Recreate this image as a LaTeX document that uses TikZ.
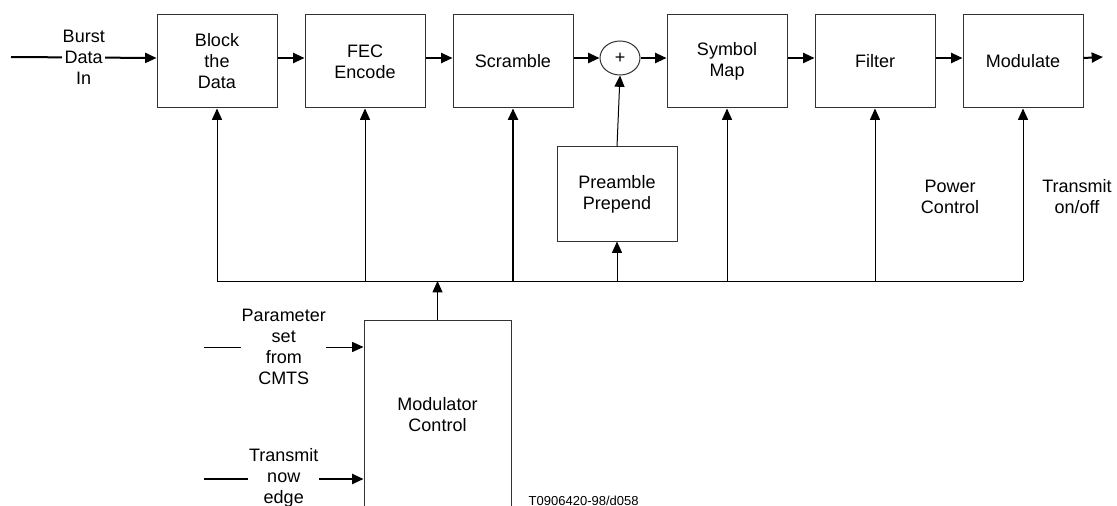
\documentclass[tikz,border=0pt]{standalone}
\usepackage{fontspec}
\setmainfont{Liberation Sans}
\usetikzlibrary{shapes.geometric, arrows.meta, positioning, calc}
\tikzset{
  %% ---- boxes ----
  box/.style     = {rectangle, draw=black!80, line width=0.75pt,
                    fill=white, minimum width=90pt, minimum height=69.75pt,
                    align=center, inner sep=0pt},
  sumnode/.style = {ellipse, draw=black!80, line width=0.75pt,
                    fill=white, minimum width=30pt, minimum height=25.5pt,
                    inner sep=0pt},
  lbl/.style     = {fill=white, align=center, inner sep=0.5pt},
  %% ---- arrows ----
  arrow/.style     = {-{Triangle[length=8.5pt,width=7.5pt]}, line width=1.5pt},
  thinarrow/.style = {-{Triangle[length=8.5pt,width=7.5pt]}, line width=0.75pt},
}

\begin{document}
\begin{tikzpicture}[x=0.75pt, y=-0.75pt, node distance=20.25pt,
                    font=\fontsize{13.5pt}{15.75pt}\selectfont]
  \useasboundingbox (0,0) rectangle (1117,506);

  %% ---- transmit chain ----
  \node[box] (blk) at (217,61.5) {Block\\the\\Data};
  \node[box, right=of blk] (fec) {FEC\\Encode};
  \node[box, right=of fec] (scr) {Scramble};
  \node[box, right=69.75pt of scr] (sym) {Symbol\\Map};
  \node[box, right=of sym] (fil) {Filter};
  \node[box, right=of fil] (mod) {Modulate};
  \node[sumnode] (sum) at ($(scr.east)!0.5!(sym.west)+(0,-3.5)$) {+};

  \coordinate (in)  at (11,57);
  \coordinate (out) at (1103,57);
  \draw[arrow] (in) -- node[lbl]{Burst\\Data\\In} (blk.west |- sum);
  \foreach \a/\b in {blk/fec, fec/scr, scr/sum, sum/sym, sym/fil, fil/mod}
    \draw[arrow] (\a.east |- sum) -- (\b.west |- sum);
  \draw[arrow] (mod.east |- sum) -- (out);

  \node[box, minimum height=70.5pt] (pre) at (617,194) {Preamble\\Prepend};
  \draw[thinarrow] (pre.north) -- (sum.south);

  %% ---- control bus ----
  \coordinate (bus) at (0,281);
  \draw[line width=0.75pt] (blk.south |- bus) -- (mod.south |- bus);
  \foreach \n in {blk, fec, sym, fil, mod}
    \draw[thinarrow] (\n.south |- bus) -- (\n.south);
  \draw[thinarrow, line width=1.5pt] (scr.south |- bus) -- (scr.south);
  \draw[thinarrow] (pre.south |- bus) -- (pre.south);

  \node[align=center] (pwr) at (950,197) {Power\\Control};
  \node[align=center] (txo) at (1077,197) {Transmit\\on/off};

  %% ---- modulator control ----
  \node[box, minimum width=110.25pt, minimum height=142.5pt] (mc)
    at (437.5,415) {Modulator\\Control};
  \draw[thinarrow] (mc.north) -- (mc.north |- bus);

  \coordinate (par) at (204,347);
  \coordinate (txn) at (204,479);
  \draw[thinarrow] (par) -- node[lbl]{Parameter\\set\\from\\CMTS} (mc.west |- par);
  \draw[arrow] (txn) -- node[lbl, yshift=1pt]{Transmit\\now\\edge} (mc.west |- txn);

  \node[anchor=base west, font=\fontsize{9.75pt}{11pt}\selectfont] (tag)
    at (524,505) {T0906420-98/d058};

\end{tikzpicture}
\end{document}
